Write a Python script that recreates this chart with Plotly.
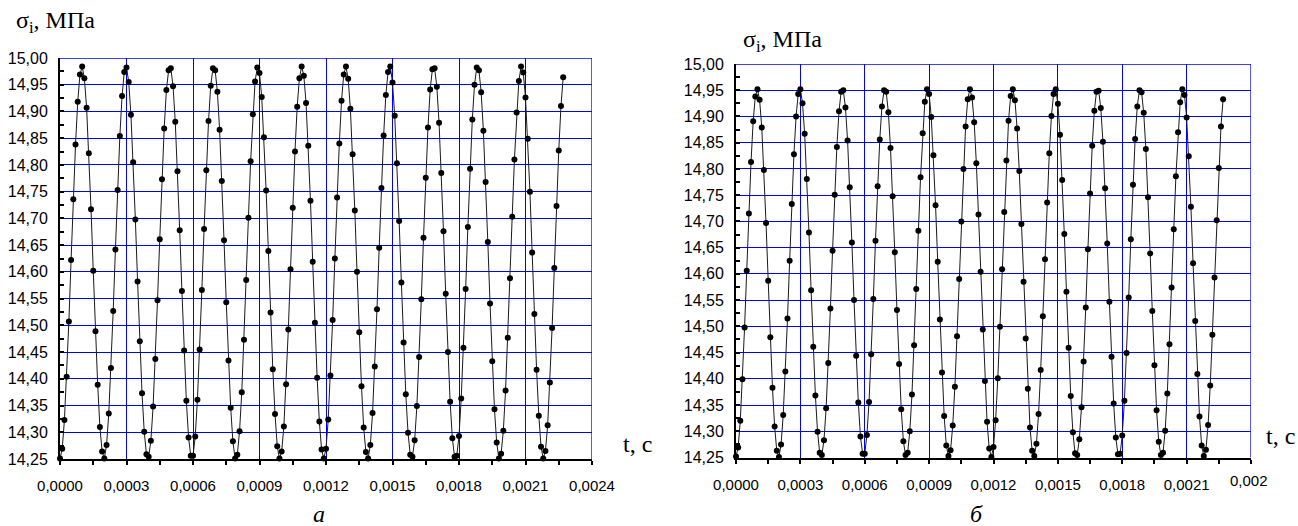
import plotly.graph_objects as go

# ---------------- data ----------------
dt = 0.00001  # sampling step, s

sigma_a = [
    14.251, 14.269, 14.323, 14.404, 14.507, 14.622, 14.736, 14.838, 14.918, 14.969,
    14.984, 14.962, 14.907, 14.822, 14.717, 14.602, 14.489, 14.389, 14.310, 14.264,
    14.251, 14.276, 14.335, 14.420, 14.527, 14.642, 14.753, 14.854, 14.929, 14.974,
    14.982, 14.955, 14.894, 14.805, 14.698, 14.582, 14.470, 14.373, 14.301, 14.259,
    14.254, 14.284, 14.348, 14.437, 14.547, 14.661, 14.773, 14.868, 14.940, 14.977,
    14.981, 14.947, 14.881, 14.788, 14.678, 14.564, 14.453, 14.359, 14.290, 14.256,
    14.256, 14.292, 14.361, 14.455, 14.566, 14.680, 14.790, 14.882, 14.948, 14.981,
    14.977, 14.937, 14.866, 14.770, 14.659, 14.543, 14.434, 14.346, 14.283, 14.251,
    14.258, 14.302, 14.375, 14.473, 14.585, 14.701, 14.807, 14.895, 14.956, 14.982,
    14.972, 14.927, 14.852, 14.752, 14.639, 14.524, 14.418, 14.334, 14.274, 14.251,
    14.264, 14.311, 14.390, 14.492, 14.605, 14.720, 14.825, 14.909, 14.962, 14.984,
    14.967, 14.916, 14.836, 14.733, 14.619, 14.505, 14.402, 14.320, 14.268, 14.251,
    14.269, 14.324, 14.406, 14.510, 14.625, 14.739, 14.840, 14.920, 14.969, 14.984,
    14.961, 14.905, 14.820, 14.715, 14.600, 14.487, 14.386, 14.309, 14.263, 14.251,
    14.276, 14.336, 14.423, 14.530, 14.645, 14.757, 14.855, 14.931, 14.974, 14.984,
    14.954, 14.892, 14.803, 14.695, 14.580, 14.468, 14.371, 14.299, 14.258, 14.254,
    14.285, 14.349, 14.441, 14.549, 14.664, 14.776, 14.870, 14.941, 14.979, 14.981,
    14.946, 14.879, 14.785, 14.676, 14.559, 14.450, 14.357, 14.289, 14.254, 14.256,
    14.293, 14.363, 14.458, 14.568, 14.684, 14.793, 14.885, 14.950, 14.982, 14.977,
    14.936, 14.864, 14.768, 14.656, 14.541, 14.433, 14.343, 14.281, 14.251, 14.260,
    14.303, 14.378, 14.477, 14.588, 14.703, 14.810, 14.898, 14.957, 14.984, 14.973,
    14.926, 14.849, 14.750, 14.636, 14.521, 14.417, 14.331, 14.273, 14.251, 14.265,
    14.313, 14.393, 14.495, 14.607, 14.723, 14.827, 14.910, 14.964,
]

sigma_b = [
    14.252, 14.269, 14.320, 14.399, 14.498, 14.606, 14.715, 14.813, 14.891, 14.938,
    14.952, 14.932, 14.879, 14.798, 14.697, 14.587, 14.479, 14.383, 14.309, 14.263,
    14.251, 14.275, 14.331, 14.414, 14.515, 14.625, 14.733, 14.828, 14.900, 14.943,
    14.952, 14.925, 14.867, 14.781, 14.679, 14.569, 14.461, 14.368, 14.299, 14.259,
    14.255, 14.283, 14.344, 14.430, 14.534, 14.644, 14.751, 14.842, 14.910, 14.947,
    14.950, 14.917, 14.854, 14.765, 14.660, 14.550, 14.444, 14.355, 14.290, 14.257,
    14.257, 14.293, 14.356, 14.447, 14.552, 14.663, 14.767, 14.856, 14.919, 14.950,
    14.947, 14.908, 14.840, 14.748, 14.641, 14.531, 14.428, 14.342, 14.281, 14.255,
    14.259, 14.300, 14.370, 14.464, 14.571, 14.682, 14.784, 14.868, 14.928, 14.952,
    14.943, 14.899, 14.826, 14.731, 14.623, 14.513, 14.412, 14.329, 14.273, 14.253,
    14.264, 14.311, 14.385, 14.481, 14.590, 14.700, 14.800, 14.881, 14.933, 14.952,
    14.936, 14.889, 14.811, 14.713, 14.604, 14.494, 14.396, 14.318, 14.267, 14.251,
    14.270, 14.321, 14.401, 14.499, 14.609, 14.718, 14.816, 14.892, 14.939, 14.952,
    14.931, 14.877, 14.796, 14.695, 14.585, 14.477, 14.381, 14.307, 14.263, 14.253,
    14.276, 14.333, 14.417, 14.519, 14.628, 14.736, 14.830, 14.901, 14.943, 14.952,
    14.924, 14.865, 14.779, 14.676, 14.566, 14.459, 14.367, 14.298, 14.258, 14.255,
    14.285, 14.346, 14.433, 14.536, 14.647, 14.753, 14.844, 14.911, 14.947, 14.949,
    14.916, 14.852, 14.763, 14.658, 14.547, 14.442, 14.353, 14.288, 14.256, 14.257,
    14.292, 14.358, 14.449, 14.555, 14.666, 14.770, 14.857, 14.919, 14.950, 14.946,
    14.907, 14.838, 14.746, 14.639, 14.529, 14.426, 14.340, 14.280, 14.255, 14.259,
    14.301, 14.372, 14.466, 14.574, 14.685, 14.786, 14.870, 14.927, 14.952, 14.941,
    14.898, 14.824, 14.728, 14.620, 14.510, 14.409, 14.328, 14.273, 14.253, 14.265,
    14.312, 14.387, 14.484, 14.593, 14.702, 14.802, 14.881, 14.933,
]

t_a = [i * dt for i in range(len(sigma_a))]
t_b = [i * dt for i in range(len(sigma_b))]

x_tickvals = [0.0, 0.0003, 0.0006, 0.0009, 0.0012, 0.0015, 0.0018, 0.0021, 0.0024]
x_ticktext_a = ["0,0000", "0,0003", "0,0006", "0,0009", "0,0012", "0,0015", "0,0018", "0,0021", "0,0024"]
x_ticktext_b = ["0,0000", "0,0003", "0,0006", "0,0009", "0,0012", "0,0015", "0,0018", "0,0021", ""]
y_tickvals = [14.25, 14.30, 14.35, 14.40, 14.45, 14.50, 14.55, 14.60, 14.65, 14.70,
              14.75, 14.80, 14.85, 14.90, 14.95, 15.00]
y_ticktext = ["14,25", "14,30", "14,35", "14,40", "14,45", "14,50", "14,55", "14,60", "14,65", "14,70",
              "14,75", "14,80", "14,85", "14,90", "14,95", "15,00"]

X_MAX = 0.0024
Y_MIN, Y_MAX = 14.25, 15.0

# ---------------- figure ----------------
W, H = 1298, 526
GRID = "#0000ff"
SANS = "Liberation Sans, Arial, sans-serif"
SERIF = "Liberation Serif, Times New Roman, serif"

fig = go.Figure()
for t, s, xa, ya in [(t_a, sigma_a, "x", "y"), (t_b, sigma_b, "x2", "y2")]:
    fig.add_trace(go.Scatter(
        x=t, y=s, mode="lines+markers", xaxis=xa, yaxis=ya,
        line=dict(color="#1a1a1a", width=1),
        marker=dict(color="black", size=6),
        cliponaxis=False, showlegend=False, hoverinfo="skip",
    ))

def xaxis_cfg(domain, ticktext, anchor):
    return dict(
        domain=domain, anchor=anchor, range=[0, X_MAX], automargin=False,
        tickmode="array", tickvals=x_tickvals, ticktext=ticktext,
        showgrid=True, gridcolor=GRID, gridwidth=1.3,
        showline=True, linecolor="black", linewidth=2,
        ticks="outside", ticklen=4, tickwidth=1.5, tickcolor="black",
        minor=dict(tickmode="array", tickvals=[0.00015 + 0.0003 * k for k in range(8)],
                   ticks="outside", ticklen=4, tickwidth=1.5, tickcolor="black", showgrid=False),
        tickfont=dict(family=SANS, size=15, color="black"),
        ticklabelstandoff=8,
        zeroline=False, fixedrange=True,
    )

def yaxis_cfg(domain, anchor):
    return dict(
        domain=domain, anchor=anchor, range=[Y_MIN, Y_MAX], automargin=False,
        tickmode="array", tickvals=y_tickvals, ticktext=y_ticktext,
        showgrid=True, gridcolor=GRID, gridwidth=1.3,
        showline=True, linecolor="black", linewidth=2,
        ticks="inside", ticklen=4, tickwidth=1.5, tickcolor="black",
        minor=dict(tickmode="array", tickvals=[14.275 + 0.05 * k for k in range(15)],
                   ticks="inside", ticklen=4, tickwidth=1.5, tickcolor="black", showgrid=False),
        tickfont=dict(family=SANS, size=16, color="black"),
        ticklabelstandoff=7,
        zeroline=False, fixedrange=True,
    )

fig.update_layout(
    template="none",
    width=W, height=H, autosize=False,
    margin=dict(l=0, r=0, t=0, b=0, pad=0),
    paper_bgcolor="white", plot_bgcolor="white",
    showlegend=False,
    xaxis=xaxis_cfg([60 / W, 592 / W], x_ticktext_a, "y"),
    yaxis=yaxis_cfg([1 - 459 / H, 1 - 58 / H], "x"),
    xaxis2=xaxis_cfg([736 / W, 1251 / W], x_ticktext_b, "y2"),
    yaxis2=yaxis_cfg([1 - 457.5 / H, 1 - 64 / H], "x2"),
)

# top and right frame lines (blue grid lines at range ends)
shapes = []
for xr, yr in [("x", "y"), ("x2", "y2")]:
    shapes.append(dict(type="line", xref=xr, yref=yr, x0=0, x1=X_MAX, y0=Y_MAX, y1=Y_MAX,
                       line=dict(color=GRID, width=1.3), layer="below"))
    shapes.append(dict(type="line", xref=xr, yref=yr, x0=X_MAX, x1=X_MAX, y0=Y_MIN, y1=Y_MAX,
                       line=dict(color=GRID, width=1.3), layer="below"))
fig.update_layout(shapes=shapes)

ann = [
    dict(text="σ<sub>i</sub>, МПа", x=14 / W, y=1 - 22 / H, xanchor="left", yanchor="middle",
         font=dict(family=SERIF, size=24, color="black")),
    dict(text="σ<sub>i</sub>, МПа", x=741 / W, y=1 - 41 / H, xanchor="left", yanchor="middle",
         font=dict(family=SERIF, size=24, color="black")),
    dict(text="t, c", x=621 / W, y=1 - 444 / H, xanchor="left", yanchor="middle",
         font=dict(family=SERIF, size=24, color="black")),
    dict(text="t, c", x=1264 / W, y=1 - 436 / H, xanchor="left", yanchor="middle",
         font=dict(family=SERIF, size=24, color="black")),
    dict(text="<i>a</i>", x=319 / W, y=1 - 514 / H, xanchor="center", yanchor="middle",
         font=dict(family=SERIF, size=24, color="black")),
    dict(text="<i>б</i>", x=977 / W, y=1 - 514 / H, xanchor="center", yanchor="middle",
         font=dict(family=SERIF, size=24, color="black")),
    dict(text="0,002", x=1228 / W, y=1 - 480 / H, xanchor="left", yanchor="middle",
         font=dict(family=SANS, size=15, color="black")),
]
for a in ann:
    a.update(xref="paper", yref="paper", showarrow=False)
fig.update_layout(annotations=ann)

fig.write_html("out.html")
